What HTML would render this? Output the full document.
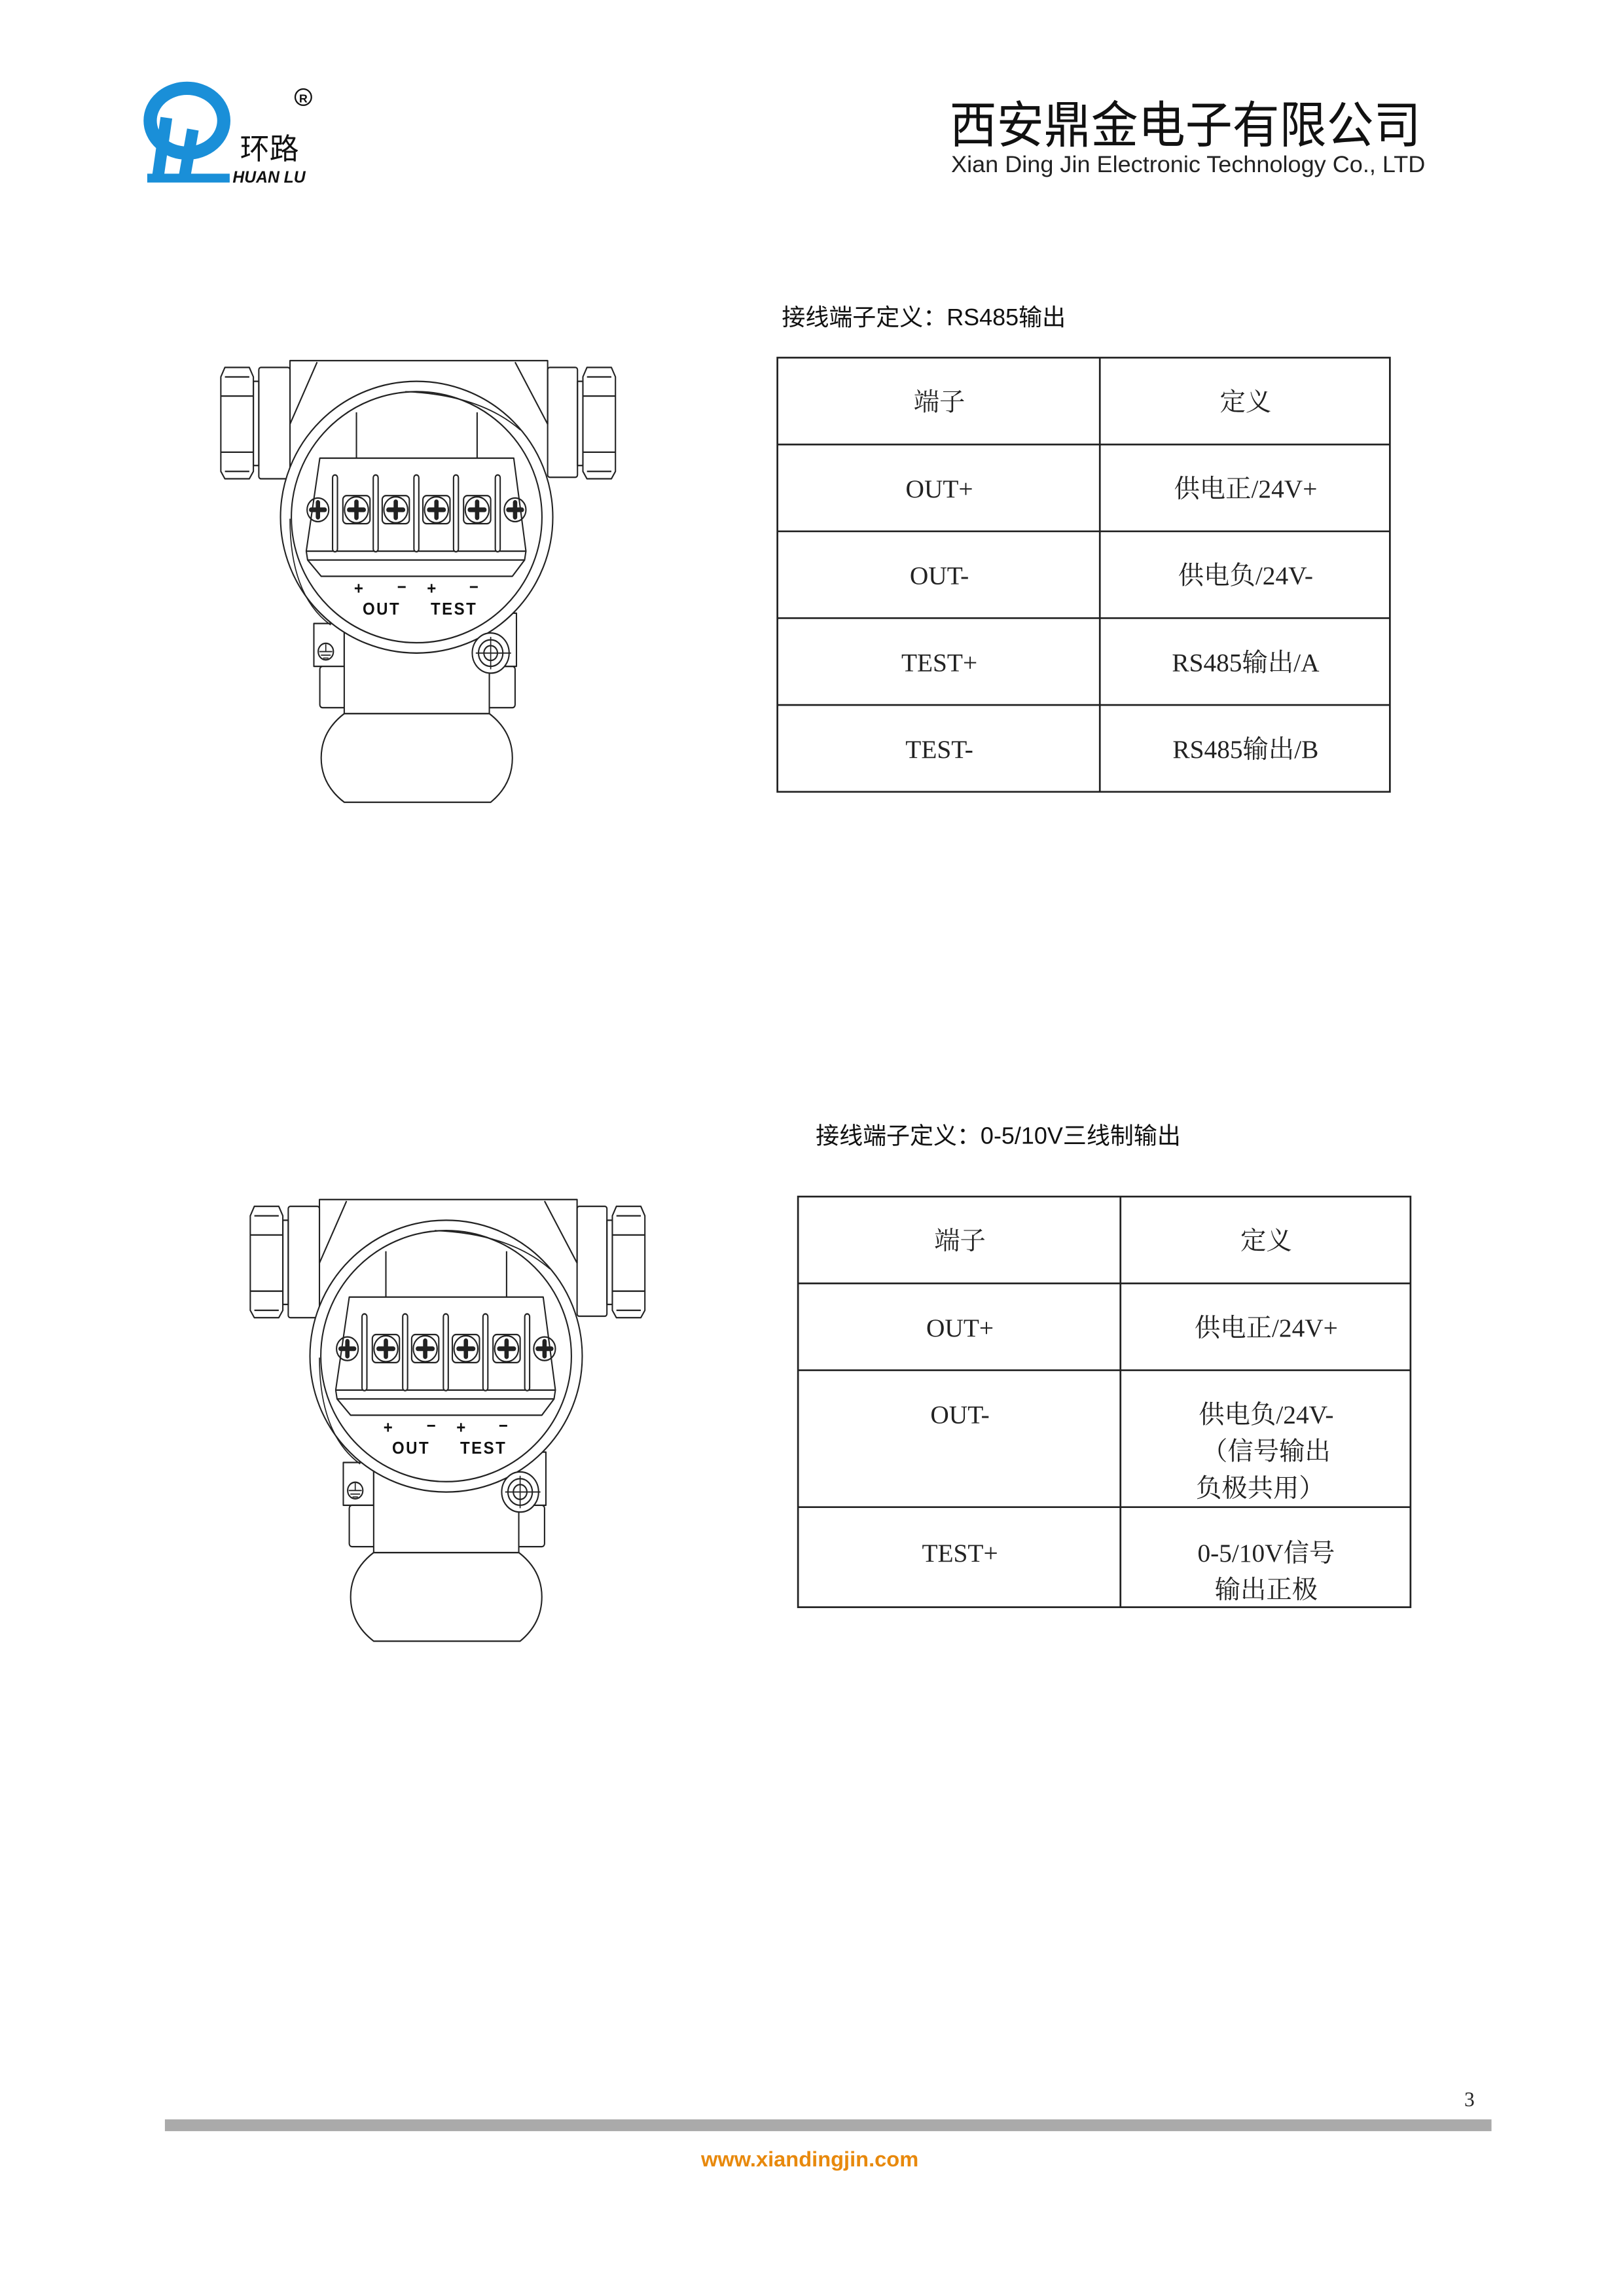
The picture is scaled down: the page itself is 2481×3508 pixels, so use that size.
<!DOCTYPE html>
<html><head><meta charset="utf-8"><style>
html,body{margin:0;padding:0;background:#fff}
svg{display:block}
.s{font-family:"Liberation Serif","Noto Serif CJK SC",serif;font-size:17.5px;fill:#222}
.t{font-family:"Liberation Sans","Noto Sans CJK SC",sans-serif;font-size:16px;fill:#111}
</style></head><body>
<svg width="2481" height="3508" viewBox="0 0 1103 1560" preserveAspectRatio="none" xmlns="http://www.w3.org/2000/svg">
<defs>
<g id="dev" fill="none" stroke="#222" stroke-width="5" stroke-linejoin="round">
  <path d="M300,260 L300,45 L1250,45 L1250,260 L1130,50 M300,260 L400,50"/>
  <rect x="185" y="68" width="115" height="377" rx="8"/>
  <rect x="165" y="115" width="20" height="285"/>
  <path d="M60,68 L150,68 L165,100 L165,420 L150,445 L60,445 L45,420 L45,100 Z"/>
  <path d="M45,165 L165,165 M45,355 L165,355 M60,100 L150,100 M60,420 L150,420"/>
  <rect x="1250" y="68" width="110" height="372" rx="8"/>
  <rect x="1360" y="115" width="20" height="285"/>
  <path d="M1395,68 L1485,68 L1500,100 L1500,420 L1485,445 L1395,445 L1380,420 L1380,100 Z"/>
  <path d="M1380,165 L1500,165 M1380,355 L1500,355 M1395,100 L1485,100 M1395,420 L1485,420"/>
  <rect x="388" y="935" width="112" height="145" fill="#fff"/>
  <rect x="410" y="1080" width="720" height="140" rx="10" fill="#fff"/>
  <rect x="500" y="960" width="535" height="280" fill="#fff"/>
  <rect x="1035" y="900" width="100" height="180" fill="#fff"/>
  <ellipse cx="767" cy="575" rx="502" ry="460" fill="#fff"/>
  <ellipse cx="767" cy="575" rx="462" ry="425"/>
  <path d="M725,150 Q1000,160 1150,280 M300,580 Q300,840 450,940" stroke-width="4"/>
  <path d="M545,220 L545,375 M990,220 L990,375"/>
  <path d="M410,375 L1125,375 L1170,690 L1165,720 L1120,775 L415,775 L365,720 L360,690 Z"/>
  <path d="M360,690 L1170,690 M365,720 L1165,720"/>
  <g fill="#fff">
   <rect x="457" y="432" width="18" height="260" rx="9"/>
   <rect x="607" y="432" width="18" height="260" rx="9"/>
   <rect x="757" y="432" width="18" height="260" rx="9"/>
   <rect x="903" y="432" width="18" height="260" rx="9"/>
   <rect x="1057" y="432" width="18" height="260" rx="9"/>
   <rect x="495" y="502" width="100" height="95" rx="14"/>
   <rect x="640" y="502" width="100" height="95" rx="14"/>
   <rect x="790" y="502" width="100" height="95" rx="14"/>
   <rect x="940" y="502" width="100" height="95" rx="14"/>
  </g>
  <circle cx="403" cy="550" r="40"/><circle cx="1130" cy="550" r="40"/>
  <circle cx="545" cy="550" r="44"/><circle cx="690" cy="550" r="44"/>
  <circle cx="840" cy="550" r="44"/><circle cx="990" cy="550" r="44"/>
  <g stroke-width="16" stroke-linecap="round">
   <path d="M378,550h50M403,525v50 M1105,550h50M1130,525v50"/>
   <path d="M518,550h54M545,523v54 M663,550h54M690,523v54 M813,550h54M840,523v54 M963,550h54M990,523v54"/>
  </g>
  <circle cx="432" cy="1030" r="28"/>
  <path d="M432,1005 V1030 M408,1030h48 M414,1042h36 M422,1052h20" stroke-width="4"/>
  <circle cx="1040" cy="1035" r="68" fill="#fff"/>
  <circle cx="1040" cy="1035" r="45"/><circle cx="1040" cy="1035" r="25"/>
  <path d="M985,1035h130 M1040,980v110" stroke-width="4"/>
  <path d="M500,1240 L1035,1240 Q1120,1300 1120,1390 Q1120,1480 1040,1540 L500,1540 Q415,1480 415,1390 Q415,1300 500,1240 Z"/>
  <g fill="#111" stroke="none" font-family="Liberation Sans, sans-serif" font-weight="bold" font-size="58" text-anchor="middle">
   <text x="553" y="835">+</text><text x="712" y="830">−</text><text x="822" y="835">+</text><text x="978" y="830">−</text>
   <text x="638" y="905" letter-spacing="6">OUT</text><text x="905" y="905" letter-spacing="6">TEST</text>
  </g>
</g>
</defs>

<!-- logo -->
<g fill="none" stroke="#1a8fd8">
  <ellipse cx="127" cy="82" rx="25" ry="22" stroke-width="9"/>
  <path d="M113,80 L107,122 M131,88 L125,122" stroke-width="8"/>
  <path d="M100,121 L156,121" stroke-width="6"/>
</g>
<text x="163" y="108" font-family="Liberation Sans, Noto Sans CJK SC, sans-serif" font-size="20" fill="#111">环路</text>
<text x="158" y="124" font-family="Liberation Sans, sans-serif" font-size="11" font-style="italic" font-weight="bold" fill="#111">HUAN LU</text>
<circle cx="206" cy="66" r="5.5" fill="none" stroke="#111" stroke-width="1"/>
<text x="206" y="69.5" font-family="Liberation Sans, sans-serif" font-size="8" font-weight="bold" text-anchor="middle" fill="#111">R</text>

<text x="645" y="97" font-family="Liberation Sans, Noto Sans CJK SC, sans-serif" font-size="34" fill="#111" textLength="320" lengthAdjust="spacingAndGlyphs">西安鼎金电子有限公司</text>
<text x="646" y="117" font-family="Liberation Sans, sans-serif" font-size="15.5" fill="#222" textLength="322" lengthAdjust="spacingAndGlyphs">Xian Ding Jin Electronic Technology Co., LTD</text>

<!-- devices -->
<use href="#dev" transform="translate(141.7,236) scale(0.1842,0.2007)"/>
<use href="#dev" transform="translate(161.7,806) scale(0.1842,0.2007)"/>

<!-- table 1 -->
<text class="t" x="531" y="221">接线端子定义：RS485输出</text>
<g fill="none" stroke="#222" stroke-width="1.2">
 <rect x="528" y="243" width="416" height="295"/>
 <path d="M747,243V538 M528,302H944 M528,361H944 M528,420H944 M528,479H944"/>
</g>
<g class="s" text-anchor="middle">
 <text x="638" y="279">端子</text><text x="846" y="279">定义</text>
 <text x="638" y="338">OUT+</text><text x="846" y="338">供电正/24V+</text>
 <text x="638" y="397">OUT-</text><text x="846" y="397">供电负/24V-</text>
 <text x="638" y="456">TEST+</text><text x="846" y="456">RS485输出/A</text>
 <text x="638" y="515">TEST-</text><text x="846" y="515">RS485输出/B</text>
</g>

<!-- table 2 -->
<text class="t" x="554" y="777">接线端子定义：0-5/10V三线制输出</text>
<g fill="none" stroke="#222" stroke-width="1.2">
 <rect x="542" y="813" width="416" height="279"/>
 <path d="M761,813V1092 M542,872H958 M542,931H958 M542,1024H958"/>
</g>
<g class="s" text-anchor="middle">
 <text x="652" y="849">端子</text><text x="860" y="849">定义</text>
 <text x="652" y="908">OUT+</text><text x="860" y="908">供电正/24V+</text>
 <text x="652" y="967">OUT-</text><text x="860" y="967">供电负/24V-</text>
 <text x="860" y="992">（信号输出</text><text x="856" y="1017">负极共用）</text>
 <text x="652" y="1061">TEST+</text><text x="860" y="1061">0-5/10V信号</text>
 <text x="860" y="1086">输出正极</text>
</g>

<!-- footer -->
<text x="998" y="1431" font-family="Liberation Serif, serif" font-size="14" text-anchor="middle" fill="#222">3</text>
<rect x="112" y="1440" width="901" height="8" fill="#aaaaaa"/>
<text x="550" y="1472" font-family="Liberation Sans, sans-serif" font-size="14.5" font-weight="bold" text-anchor="middle" fill="#e8890c">www.xiandingjin.com</text>
</svg>
</body></html>
